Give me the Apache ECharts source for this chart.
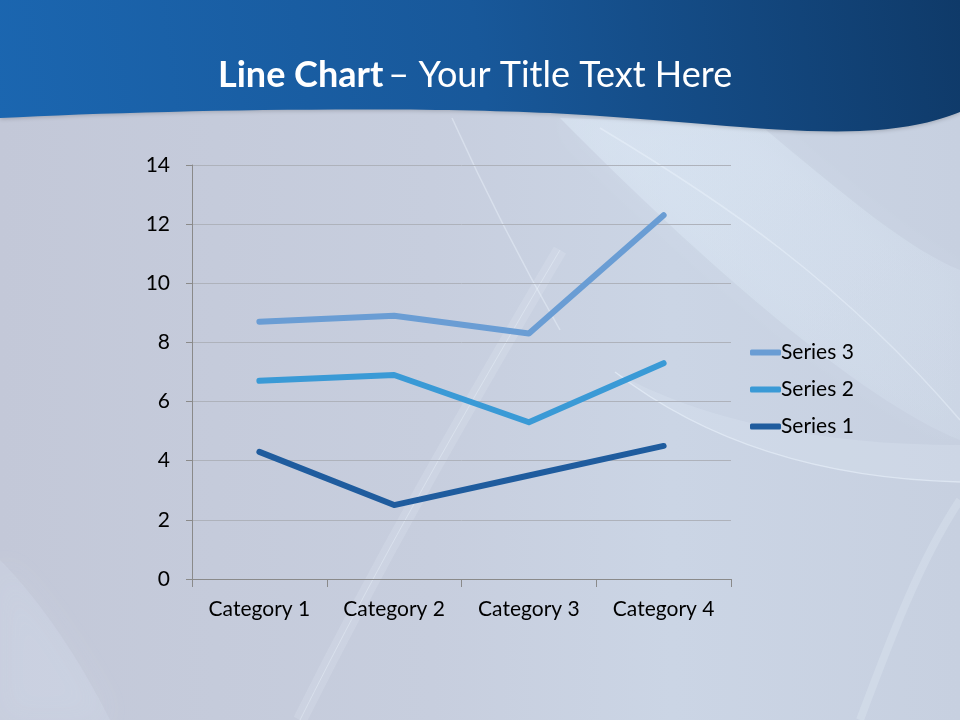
<!DOCTYPE html>
<html>
<head>
<meta charset="utf-8">
<script src="https://cdn.jsdelivr.net/npm/echarts@6/dist/echarts.min.js"></script>
<style>
html,body{margin:0;padding:0;width:960px;height:720px;overflow:hidden;}
#chart{width:960px;height:720px;}
</style>
</head>
<body>
<div id="chart"></div>
<script>
var categories = ['Category 1', 'Category 2', 'Category 3', 'Category 4'];
var series1 = [4.3, 2.5, 3.5, 4.5];
var series2 = [2.4, 4.4, 1.8, 2.8];
var series3 = [2, 2, 3, 5];
var seriesNames = ['Series 1', 'Series 2', 'Series 3'];
var yTicks = { min: 0, max: 14, interval: 2 };

var colors = ['#1f5c9e', '#3a9ad6', '#6a9dd4'];
var FONT = 'Lato, "Open Sans", sans-serif';

// decorative background shapes (slide template)
var decoPaths = {
  deco_wave: 'M0,0 L960,0 L960,112 C 940,120 910,129 860,131 C 780,134 680,120 550,113 C 400,106 150,110 0,118 Z',
  deco_band: 'M560,118 L760,125 C 850,200 910,250 960,270 L960,440 C 860,400 700,260 560,118 Z',
  deco_arcfill: 'M615,372 C 690,430 800,478 960,482 L960,445 C 820,445 700,420 615,372 Z',
  deco_arc: 'M615,372 C 690,430 800,478 960,482',
  deco_ray1: 'M452,118 C 480,180 520,260 560,330',
  deco_ray2: 'M600,128 C 720,200 840,280 960,420',
  deco_low: 'M300,720 C 380,560 460,420 560,250',
  deco_right: 'M860,720 C 890,640 920,560 960,500',
  deco_leftglow: 'M0,560 C 40,600 80,660 110,720 L0,720 Z'
};
Object.keys(decoPaths).forEach(function (k) {
  echarts.graphic.registerShape(k, echarts.graphic.extendPath(decoPaths[k], {}));
});

var chart = echarts.init(document.getElementById('chart'), null, { renderer: 'canvas' });

function lineSeries(name, data, color) {
  return {
    name: name,
    type: 'line',
    stack: 'total',
    data: data,
    symbol: 'none',
    showSymbol: false,
    lineStyle: { color: color, width: 6, cap: 'round', join: 'round' },
    itemStyle: { color: color },
    z: 5
  };
}

function strokeDeco(type, alpha, w) {
  return { type: type, z: -99, silent: true,
    style: { fill: null, stroke: 'rgba(240,248,255,' + alpha + ')', lineWidth: w } };
}

var option = {
  animation: false,
  backgroundColor: '#c6ccdb',
  graphic: [
    { type: 'rect', z: -100, silent: true, shape: { x: 0, y: 0, width: 960, height: 720 },
      style: { fill: new echarts.graphic.LinearGradient(0, 0, 1, 0, [
        { offset: 0, color: '#c3c8d8' }, { offset: 0.45, color: '#c7cede' },
        { offset: 0.7, color: '#cbd5e5' }, { offset: 1, color: '#c7d0e0' }]) } },
    { type: 'deco_band', z: -99, silent: true,
      style: { fill: new echarts.graphic.LinearGradient(0, 0, 1, 1, [
        { offset: 0, color: 'rgba(225,238,250,0.45)' }, { offset: 1, color: 'rgba(225,238,250,0.15)' }]),
        shadowBlur: 30, shadowColor: 'rgba(225,238,250,0.4)' } },
    { type: 'deco_arcfill', z: -99, silent: true, style: { fill: 'rgba(230,240,250,0.2)' } },
    { type: 'deco_leftglow', z: -99, silent: true, style: { fill: 'rgba(220,232,246,0.2)', shadowBlur: 30, shadowColor: 'rgba(220,232,246,0.4)' } },
    strokeDeco('deco_arc', 0.5, 1.5),
    strokeDeco('deco_ray1', 0.4, 1.5),
    strokeDeco('deco_ray2', 0.4, 1.5),
    strokeDeco('deco_low', 0.15, 14),
    strokeDeco('deco_low', 0.35, 1),
    strokeDeco('deco_right', 0.2, 8),
    { type: 'deco_wave', z: -98, silent: true,
      style: { fill: new echarts.graphic.LinearGradient(0, 1, 1, 0, [
        { offset: 0, color: '#1b66b0' }, { offset: 0.5, color: '#18589a' }, { offset: 1, color: '#0f3a69' }]),
        shadowBlur: 4, shadowColor: 'rgba(0,0,0,0.2)', shadowOffsetY: 1 } }
  ],
  title: {
    text: '{b|Line Chart} {r|– Your Title Text Here}',
    left: 213,
    top: 52,
    textStyle: {
      rich: {
        b: { fontFamily: FONT, fontSize: 36, fontWeight: 'bold', color: '#ffffff' },
        r: { fontFamily: FONT, fontSize: 36, fontWeight: 'normal', color: '#ffffff' }
      }
    }
  },
  legend: {
    orient: 'vertical',
    left: 745,
    top: 337,
    itemGap: 16,
    itemWidth: 31,
    itemHeight: 6,
    icon: 'roundRect',
    data: ['Series 3', 'Series 2', 'Series 1'],
    textStyle: { fontFamily: FONT, fontSize: 21, color: '#000000', padding: [0, 0, 0, -5] }
  },
  grid: { left: 192, right: 229, top: 165, bottom: 141, containLabel: false },
  xAxis: {
    type: 'category',
    data: categories,
    boundaryGap: true,
    axisLine: { show: true, lineStyle: { color: '#8a8a8a', width: 1 } },
    axisTick: { show: true, length: 8, alignWithLabel: false, lineStyle: { color: '#8a8a8a' } },
    axisLabel: { fontFamily: FONT, fontSize: 21, color: '#000000', margin: 20 },
    splitLine: { show: false }
  },
  yAxis: {
    type: 'value',
    min: yTicks.min,
    max: yTicks.max,
    interval: yTicks.interval,
    axisLine: { show: true, lineStyle: { color: '#8a8a8a', width: 1 } },
    axisTick: { show: true, length: 6, lineStyle: { color: '#8a8a8a' } },
    axisLabel: { fontFamily: FONT, fontSize: 21, color: '#000000', margin: 22 },
    splitLine: { show: true, lineStyle: { color: '#aeb2bb', width: 1 } }
  },
  series: [
    lineSeries(seriesNames[0], series1, colors[0]),
    lineSeries(seriesNames[1], series2, colors[1]),
    lineSeries(seriesNames[2], series3, colors[2])
  ]
};
chart.setOption(option);
</script>
</body>
</html>
